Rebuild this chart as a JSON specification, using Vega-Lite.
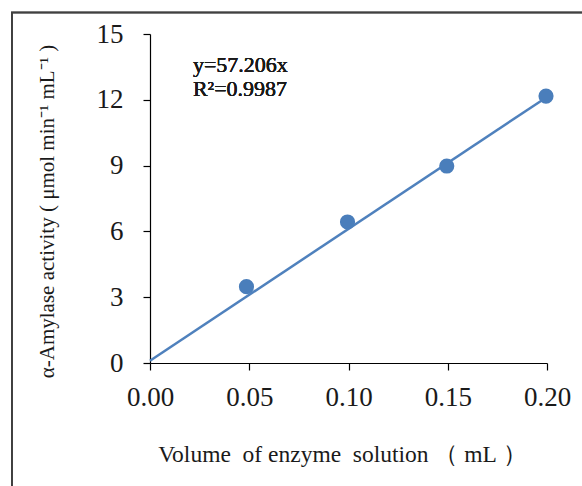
{
  "$schema": "https://vega.github.io/schema/vega-lite/v6.json",
  "width": 397,
  "height": 329,
  "autosize": {"type": "none"},
  "padding": {"left": 150, "top": 34, "right": 35, "bottom": 123},
  "background": "white",
  "config": {
    "view": {"stroke": null},
    "font": "Liberation Serif",
    "axis": {
      "grid": false,
      "domainColor": "black",
      "tickColor": "black",
      "domainWidth": 1.2,
      "tickWidth": 1.2,
      "tickSize": 7,
      "labelFont": "Liberation Serif",
      "titleFont": "Liberation Serif",
      "labelColor": "#1a1a1a",
      "titleColor": "#1a1a1a",
      "titleFontWeight": "normal",
      "labelFlush": false,
      "labelOverlap": false
    }
  },
  "data": {
    "values": [
      {"volume": 0.0486, "activity": 3.48},
      {"volume": 0.0995, "activity": 6.43},
      {"volume": 0.1495, "activity": 8.98},
      {"volume": 0.1995, "activity": 12.17}
    ]
  },
  "layer": [
    {
      "mark": {"type": "rect", "fill": null, "stroke": "#404040", "strokeWidth": 1.6},
      "encoding": {
        "x": {"datum": -0.0696, "type": "quantitative"},
        "x2": {"datum": 0.3},
        "y": {"datum": 15.98, "type": "quantitative"},
        "y2": {"datum": -9}
      }
    },
    {
      "data": {"values": [{"volume": 0, "fit": 0.1}, {"volume": 0.2, "fit": 12.13}]},
      "mark": {"type": "line", "color": "#4f81bd", "strokeWidth": 2.5},
      "encoding": {
        "x": {"field": "volume", "type": "quantitative"},
        "y": {"field": "fit", "type": "quantitative"}
      }
    },
    {
      "mark": {"type": "circle", "color": "#4a7ebb", "opacity": 1, "size": 230},
      "encoding": {
        "x": {
          "field": "volume",
          "type": "quantitative",
          "scale": {"domain": [0, 0.2], "nice": false},
          "axis": {
            "values": [0, 0.05, 0.1, 0.15, 0.2],
            "format": ".2f",
            "labelFontSize": 27,
            "labelPadding": 14,
            "title": "Volume\u00a0\u00a0of enzyme\u00a0\u00a0solution\u00a0（\u00a0mL\u00a0）",
            "titleFontSize": 23.5,
            "titlePadding": 32,
            "titleX": 192
          }
        },
        "y": {
          "field": "activity",
          "type": "quantitative",
          "scale": {"domain": [0, 15], "nice": false},
          "axis": {
            "values": [0, 3, 6, 9, 12, 15],
            "labelFontSize": 27,
            "labelPadding": 20,
            "title": "α-Amylase activity ( μmol min⁻¹ mL⁻¹ )",
            "titleFontSize": 21,
            "titlePadding": 39,
            "titleY": 177
          }
        }
      }
    },
    {
      "mark": {
        "type": "text",
        "text": ["y=57.206x", "R²=0.9987"],
        "align": "left",
        "baseline": "alphabetic",
        "fontSize": 22,
        "lineHeight": 24,
        "color": "#1a1a1a",
        "font": "Liberation Serif"
      },
      "encoding": {
        "x": {"datum": 0.0216, "type": "quantitative"},
        "y": {"datum": 13.27, "type": "quantitative"}
      }
    }
  ]
}
